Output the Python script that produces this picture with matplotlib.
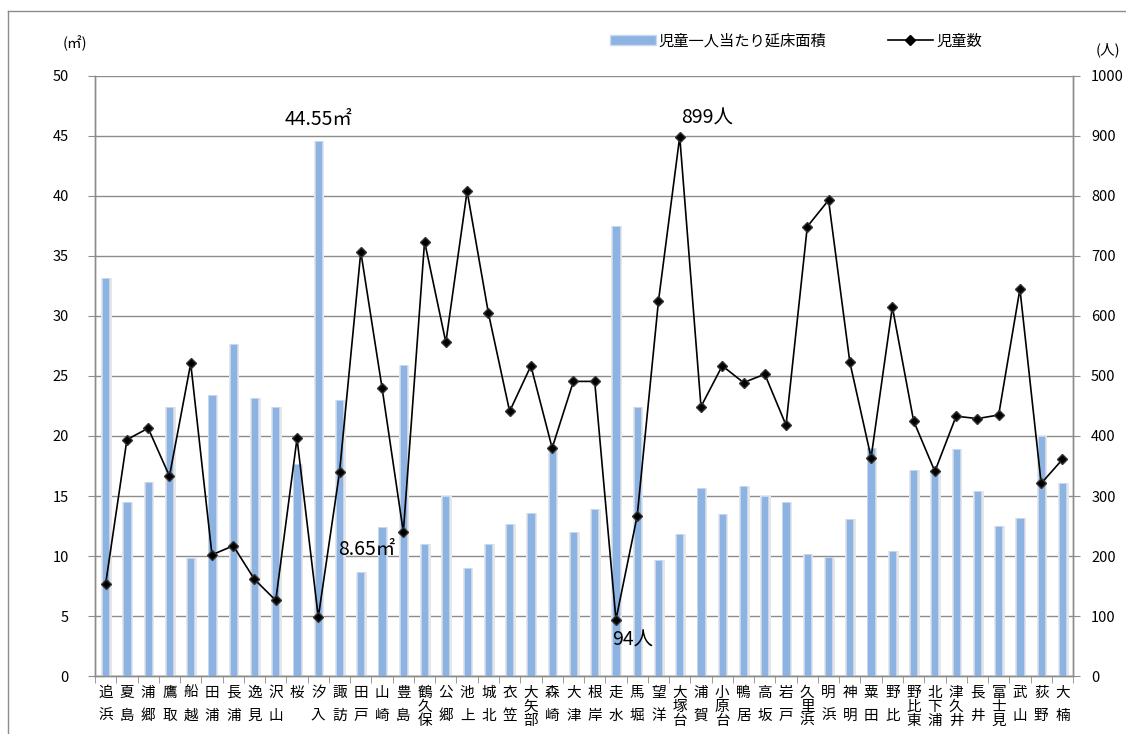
import numpy as np
import matplotlib.pyplot as plt
from matplotlib.lines import Line2D
from matplotlib.patches import Patch

plt.rcParams['font.family'] = ['Noto Sans CJK JP', 'DejaVu Sans']

# 地区名
districts = ['追浜', '夏島', '浦郷', '鷹取', '船越', '田浦', '長浦', '逸見', '沢山', '桜',
             '汐入', '諏訪', '田戸', '山崎', '豊島', '鶴久保', '公郷', '池上', '城北', '衣笠',
             '大矢部', '森崎', '大津', '根岸', '走水', '馬堀', '望洋', '大塚台', '浦賀', '小原台',
             '鴨居', '高坂', '岩戸', '久里浜', '明浜', '神明', '粟田', '野比', '野比東', '北下浦',
             '津久井', '長井', '富士見', '武山', '荻野', '大楠']

# 児童一人当たり延床面積 (㎡)
floor_area = [33.2, 14.5, 16.2, 22.4, 9.8, 23.4, 27.7, 23.2, 22.4, 17.7,
              44.55, 23.0, 8.65, 12.4, 25.9, 11.0, 15.0, 9.0, 11.0, 12.7,
              13.6, 19.0, 12.0, 13.9, 37.5, 22.4, 9.7, 11.8, 15.7, 13.5,
              15.8, 15.0, 14.5, 10.2, 9.9, 13.1, 19.0, 10.4, 17.2, 17.1,
              18.9, 15.4, 12.5, 13.2, 20.0, 16.1]

# 児童数 (人)
children = [154, 394, 413, 333, 521, 202, 217, 161, 126, 396,
            98, 340, 707, 480, 240, 724, 556, 808, 605, 441,
            517, 380, 491, 491, 94, 267, 625, 899, 449, 517,
            489, 503, 418, 749, 793, 523, 364, 615, 425, 341,
            433, 429, 435, 645, 321, 361]

bar_color = '#8db3e2'
grid_color = '#8c8c8c'

x = np.arange(len(districts))

fig = plt.figure(figsize=(11.26, 7.34), dpi=100)
ax = fig.add_axes([0.0844, 0.079, 0.8686, 0.8175])
ax2 = ax.twinx()

# 棒（影つき）
ax.bar(x + 0.04, floor_area, width=0.5, color='#e6e6e6', zorder=2)
ax.bar(x, floor_area, width=0.34, color=bar_color, edgecolor='#c9d9ee', linewidth=0.6, zorder=3)

ax.set_xlim(-0.5, len(districts) - 0.5)
ax.set_ylim(0, 50)
ax.set_yticks(np.arange(0, 51, 5))
ax.yaxis.grid(True, color=grid_color, linewidth=1.0, zorder=0)
ax.set_axisbelow(True)

# 折れ線
ax2.plot(x, children, color='black', linewidth=1.2, marker='D', markersize=5.5,
         markerfacecolor='black', markeredgecolor='#333333', zorder=5)
ax2.set_ylim(0, 1000)
ax2.set_yticks(np.arange(0, 1001, 100))

for a in (ax, ax2):
    a.spines['top'].set_visible(False)
    for side in ('left', 'right', 'bottom'):
        a.spines[side].set_color(grid_color)
        a.spines[side].set_linewidth(1.0)
ax.tick_params(axis='y', labelsize=10.5, length=5, color=grid_color, pad=14)
ax2.tick_params(axis='y', labelsize=10.5, length=5, color=grid_color, pad=8)

# x軸ラベル（縦書き）
ax.set_xticks(x)
ax.set_xticks(np.arange(-0.5, len(districts), 1), minor=True)
ax.tick_params(axis='x', which='major', length=0, pad=7)
ax.tick_params(axis='x', which='minor', length=5, color=grid_color)
ax.set_xticklabels(['\n'.join(name) for name in districts], fontsize=10.5, va='top')
for lab, name in zip(ax.get_xticklabels(), districts):
    lab.set_linespacing(1.0 if len(name) == 3 else 1.8)

# 値ラベル
ax.annotate('44.55㎡', xy=(10, floor_area[10]), xytext=(0, 16), textcoords='offset points',
            ha='center', va='center', fontsize=14)
ax.annotate('8.65㎡', xy=(12, floor_area[12]), xytext=(4.5, 16), textcoords='offset points',
            ha='center', va='center', fontsize=14)
ax2.annotate('899人', xy=(27, children[27]), xytext=(20, 13), textcoords='offset points',
             ha='center', va='center', fontsize=14)
ax2.annotate('94人', xy=(24, children[24]), xytext=(12, -14.5), textcoords='offset points',
             ha='center', va='center', fontsize=14)

# 単位
fig.text(75 / 1126, 1 - 43 / 734, '(㎡)', ha='center', va='center', fontsize=10.5)
fig.text(1108 / 1126, 1 - 50 / 734, '(人)', ha='center', va='center', fontsize=10.5)

# 凡例
handles = [Patch(facecolor=bar_color, edgecolor='#c9d9ee'),
           Line2D([], [], color='black', linewidth=1.2, marker='D', markersize=5)]
fig.legend(handles, ['児童一人当たり延床面積', '児童数'], ncol=2, frameon=False,
           loc='center', bbox_to_anchor=(796 / 1126, 1 - 41 / 734), fontsize=11,
           handlelength=3.0, handleheight=0.6, handletextpad=0.2, columnspacing=4.0)

# 外枠
fig.add_artist(Line2D([8 / 1126, 1], [1 - 11 / 734, 1 - 11 / 734], color=grid_color, linewidth=1.0))
fig.add_artist(Line2D([8 / 1126, 8 / 1126], [0, 1 - 11 / 734], color=grid_color, linewidth=1.0))

fig.savefig('out.png', dpi=100)
